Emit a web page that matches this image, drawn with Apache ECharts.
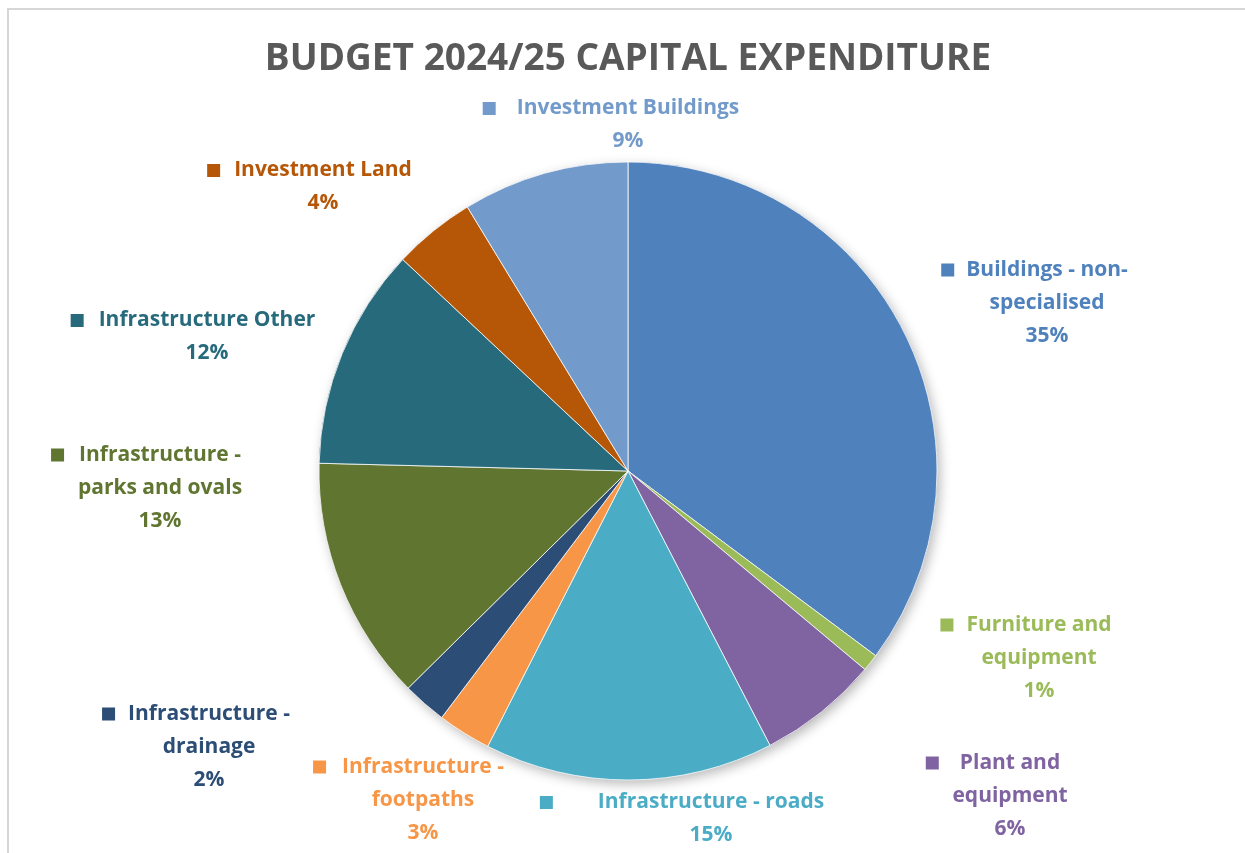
<!DOCTYPE html>
<html>
<head>
<meta charset="utf-8">
<title>Budget 2024/25 Capital Expenditure</title>
<script src="https://cdn.jsdelivr.net/npm/echarts@6/dist/echarts.min.js"></script>
<style>
  html, body { margin: 0; padding: 0; background: #ffffff; }
  #chart { width: 1245px; height: 853px; }
</style>
</head>
<body>
<div id="chart"></div>
<script>
// Capital expenditure categories, clockwise from 12 o'clock
const categories = [
  'Buildings - non-specialised',
  'Furniture and equipment',
  'Plant and equipment',
  'Infrastructure - roads',
  'Infrastructure - footpaths',
  'Infrastructure - drainage',
  'Infrastructure - parks and ovals',
  'Infrastructure Other',
  'Investment Land',
  'Investment Buildings'
];

// Share of the capital budget (%)
const shares = [35.2, 0.9, 6.3, 15.1, 2.8, 2.3, 12.8, 11.6, 4.3, 8.7];

// How each category name wraps in its label
const labelLines = [
  ['Buildings - non-', 'specialised'],
  ['Furniture and', 'equipment'],
  ['Plant and', 'equipment'],
  ['Infrastructure - roads'],
  ['Infrastructure -', 'footpaths'],
  ['Infrastructure -', 'drainage'],
  ['Infrastructure -', 'parks and ovals'],
  ['Infrastructure Other'],
  ['Investment Land'],
  ['Investment Buildings']
];

const sliceColors = [
  '#4F81BD', '#9BBB59', '#8064A2', '#4BACC6', '#F79646',
  '#2C4D75', '#5F7530', '#276A7C', '#B65708', '#729ACA'
];

// Label block centre [x, y] and gap between key square and text
const labelSpots = [
  [1047, 303, 12], [1039, 658, 13], [1010, 796, 21], [711, 819, 45], [423, 800, 16],
  [209, 747, 13], [160, 488, 15], [207, 337, 15], [323, 187, 14], [628, 125, 21]
];

const FONT = '"Open Sans", "Noto Sans", sans-serif';
const FONT_SIZE = 21;
const KEY = 13;
const LINE_H = 33;

const pieData = categories.map((name, i) => ({
  name: name,
  value: shares[i],
  itemStyle: { color: sliceColors[i] }
}));

// Rich-text styles per label: key square, spacers and coloured text
const rich = {};
sliceColors.forEach((c, i) => {
  const gap = labelSpots[i][2];
  rich['sq' + i] = { width: KEY, height: KEY, backgroundColor: c, lineHeight: LINE_H };
  rich['gl' + i] = { width: gap, lineHeight: LINE_H };
  rich['gr' + i] = { width: KEY + gap, lineHeight: LINE_H };
  rich['t' + i] = {
    color: c, fontFamily: FONT, fontSize: FONT_SIZE, fontWeight: 'bold', lineHeight: LINE_H
  };
});

function labelText(p) {
  const i = p.dataIndex;
  const lines = labelLines[i];
  let s = '{sq' + i + '| }{gl' + i + '| }{t' + i + '|' + lines[0] + '}{gr' + i + '| }';
  for (let k = 1; k < lines.length; k++) {
    s += '\n{t' + i + '|' + lines[k] + '}';
  }
  s += '\n{t' + i + '|' + Math.round(p.percent) + '%}';
  return s;
}

const CENTER = [628, 471];
const RADIUS = 309;

const chart = echarts.init(document.getElementById('chart'), null, { renderer: 'canvas' });

chart.setOption({
  backgroundColor: '#ffffff',
  animation: false,
  title: {
    text: 'BUDGET 2024/25 CAPITAL EXPENDITURE',
    left: 628,
    top: 41,
    textAlign: 'center',
    padding: 0,
    textStyle: {
      fontFamily: FONT,
      fontSize: 37,
      fontWeight: 'bold',
      color: '#595959'
    }
  },
  graphic: [{
    type: 'rect',
    silent: true,
    z: -10,
    shape: { x: 8, y: 9, width: 1400, height: 1000 },
    style: { fill: 'none', stroke: '#d6d6d6', lineWidth: 2 }
  }],
  series: [
    {
      // soft drop shadow beneath the pie
      type: 'pie',
      silent: true,
      z: 1,
      center: CENTER,
      radius: RADIUS,
      startAngle: 90,
      clockwise: true,
      label: { show: false },
      labelLine: { show: false },
      itemStyle: {
        shadowBlur: 12,
        shadowOffsetX: 3,
        shadowOffsetY: 4,
        shadowColor: 'rgba(0,0,0,0.28)'
      },
      data: pieData
    },
    {
      type: 'pie',
      z: 2,
      center: CENTER,
      radius: RADIUS,
      startAngle: 90,
      clockwise: true,
      avoidLabelOverlap: false,
      itemStyle: { borderColor: '#ffffff', borderWidth: 0.8 },
      label: {
        show: true,
        position: 'outside',
        formatter: labelText,
        rich: rich,
        align: 'center',
        lineHeight: LINE_H,
        fontFamily: FONT,
        fontSize: FONT_SIZE,
        fontWeight: 'bold'
      },
      labelLine: { show: false },
      labelLayout: function (p) {
        const spot = labelSpots[p.dataIndex];
        return {
          x: spot[0],
          y: spot[1],
          align: 'center',
          verticalAlign: 'middle',
          hideOverlap: false
        };
      },
      data: pieData
    }
  ]
});
</script>
</body>
</html>
